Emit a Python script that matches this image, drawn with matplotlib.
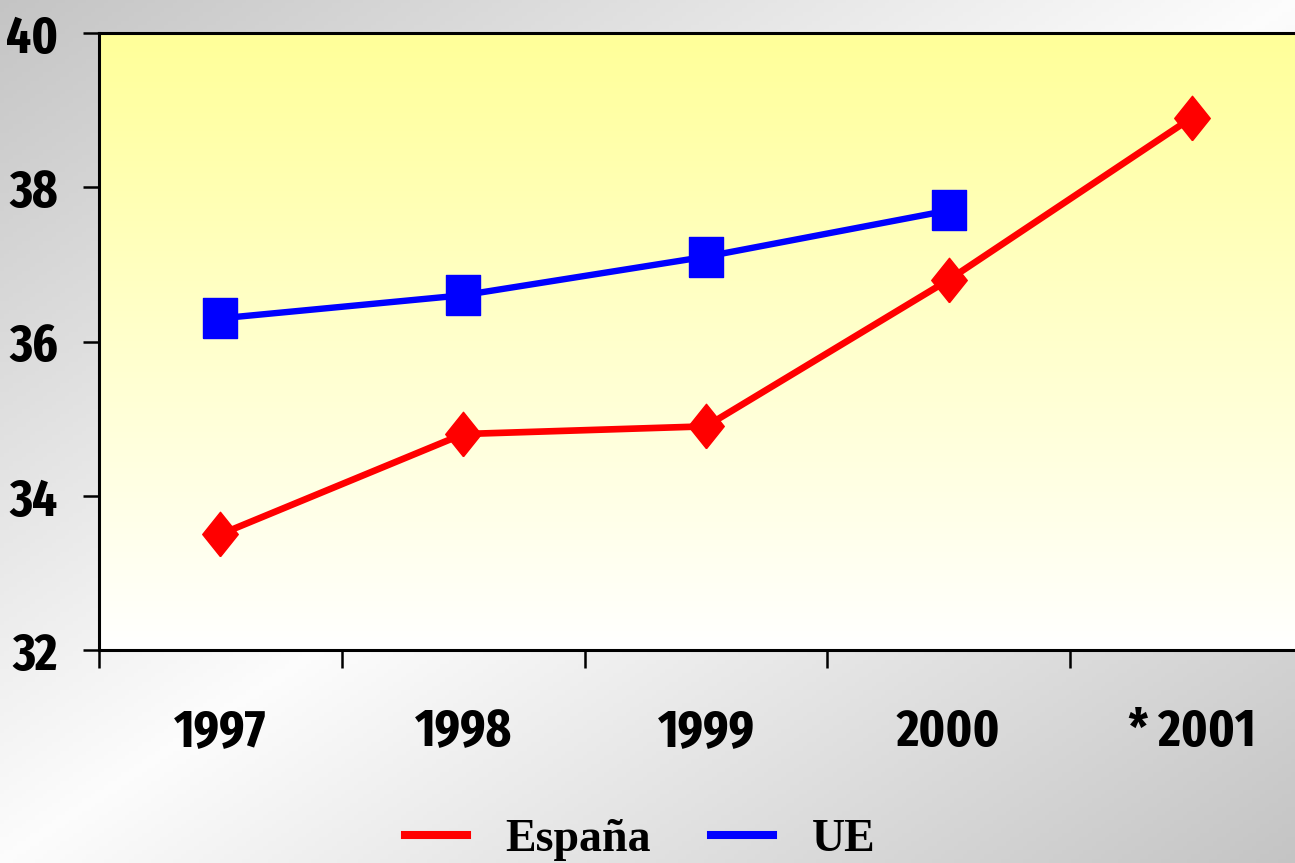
import numpy as np
import matplotlib.pyplot as plt

years = ['1997', '1998', '1999', '2000', '* 2001']
espana = [33.5, 34.8, 34.9, 36.8, 38.9]
ue = [36.3, 36.6, 37.1, 37.7]

W, H = 1295, 863
fig = plt.figure(figsize=(W / 100, H / 100), dpi=100)

# grey diagonal background
bg = fig.add_axes([0, 0, 1, 1], zorder=-10)
yy, xx = np.mgrid[0:1:200j, 0:1:300j]
u = xx + yy
shade = 0.99 - 0.22 * np.abs(u - 1)
bg.imshow(np.dstack([shade] * 3), extent=[0, 1, 0, 1], aspect='auto', origin='upper')
bg.set_axis_off()

ax = fig.add_axes([99 / W, 1 - 650 / H, (1313 - 99) / W, (650 - 33) / H])

# yellow-to-white gradient in the plot area
g = np.linspace(0, 1, 256)[:, None]
grad = np.dstack([np.ones_like(g), np.ones_like(g), 0.6 + 0.4 * g])
ax.imshow(grad, extent=[-0.5, 4.5, 32, 40], aspect='auto', origin='upper', zorder=0)

x = np.arange(len(years))
square = [(-1, -1.2), (1, -1.2), (1, 1.2), (-1, 1.2), (-1, -1.2)]
diamond = [(0, -1.25), (1, 0), (0, 1.25), (-1, 0), (0, -1.25)]

ax.plot(x, espana, color='#ff0000', lw=4.8, marker=diamond, ms=32,
        mec='#ff0000', mfc='#ff0000', label='España', zorder=3)
ax.plot(x[:len(ue)], ue, color='#0000ff', lw=4.6, marker=square, ms=29,
        mec='#0000ff', mfc='#0000ff', label='UE', zorder=3)

ax.set_xlim(-0.5, 4.5)
ax.set_ylim(32, 40)
ax.set_yticks([32, 34, 36, 38, 40])
ax.set_xticks(x)
ax.set_xticklabels(years)
ax.set_xticks(np.arange(-0.5, 5, 1), minor=True)

for lab in ax.get_xticklabels() + ax.get_yticklabels():
    lab.set_fontfamily(['Fira Sans Extra Condensed', 'DejaVu Sans'])
    lab.set_fontweight('bold')
    lab.set_fontsize(38)

ax.tick_params(axis='x', which='major', length=0, pad=41)
ax.tick_params(axis='x', which='minor', length=13, width=1.8, direction='out')
ax.tick_params(axis='y', length=11.5, width=1.8, direction='out', pad=18)

for side in ['left', 'bottom', 'top']:
    ax.spines[side].set_linewidth(2.2)
ax.spines['right'].set_visible(False)

leg = fig.legend(loc='center', bbox_to_anchor=(640 / W, 1 - 840 / H), ncol=2,
                 frameon=False, handlelength=1.35, handletextpad=0.85, columnspacing=1.3,
                 prop=dict(family=['Liberation Serif', 'DejaVu Serif'], weight='bold', size=33))
for h in leg.legend_handles:
    h.set_marker('')
    h.set_linewidth(5.8)

fig.savefig('out.png', dpi=100)
